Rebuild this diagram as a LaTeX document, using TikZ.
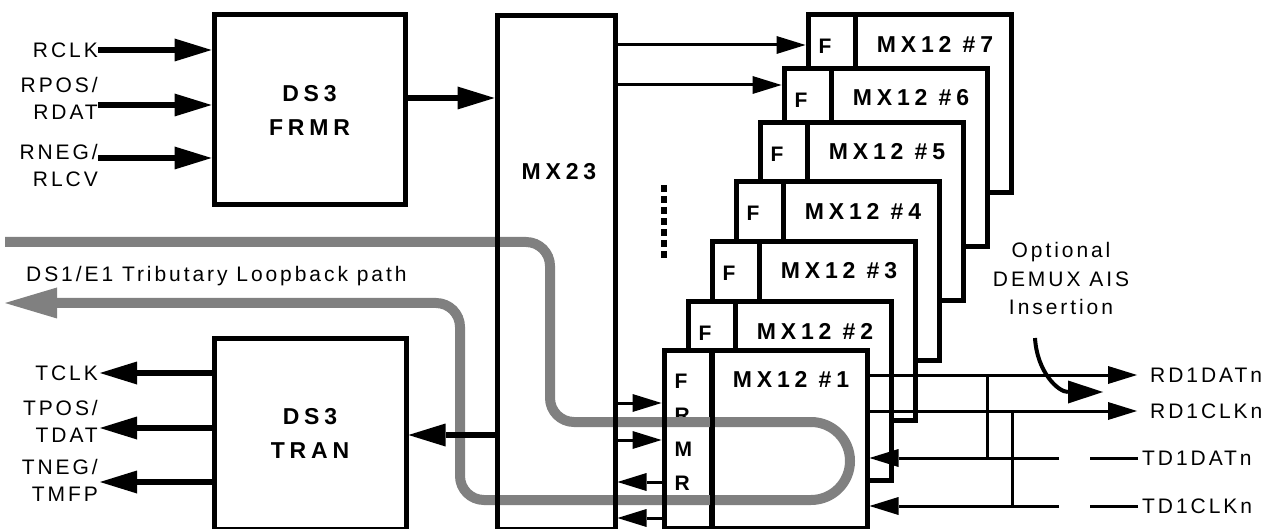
\documentclass[tikz,border=0pt]{standalone}
\usepackage{fontspec}
\setmainfont{Liberation Sans}
\newfontfamily\sigfont[LetterSpace=14]{Liberation Sans}
\newfontfamily\blkfont[LetterSpace=21]{Liberation Sans}
\usetikzlibrary{arrows.meta,positioning}
\definecolor{loopgray}{RGB}{128,128,128}

\tikzset{
  blk/.style={draw, line width=5pt, fill=white, inner sep=0pt, align=center,
    font=\blkfont\bfseries\fontsize{23}{34}\selectfont},
  sig/.style={inner sep=0pt, align=right, font=\sigfont\fontsize{21}{27}\selectfont},
  fat/.style={line width=6pt, -{Triangle[length=37pt,width=23pt,line width=0pt]}},
  thin/.style={line width=3pt, -{Triangle[length=29pt,width=18pt,line width=0pt]}},
  loopback/.style={draw=loopgray, line width=10pt, rounded corners=24pt}
}

\begin{document}
\begin{tikzpicture}[x=1pt,y=-1pt]
\useasboundingbox (0,0) rectangle (1285,529);
% DS3 blocks
\node[blk, minimum width=191pt, minimum height=190pt] (frmr) at (309.5,110) {DS3\\FRMR};
\node[blk, minimum width=192pt, minimum height=190.5pt] (tran) at (310,433.75) {DS3\\TRAN};
% MX12 stack, back to front
\foreach \n/\t in {7/15,6/69,5/123,4/182,3/242,2/302,1/350}{
  \pgfmathsetmacro\l{664+24*(\n-1)}
  \ifnum\n=1 \def\fcol{F\\R\\M\\R}\else\def\fcol{F\\R}\fi
  \node[blk, minimum width=203pt, minimum height=178pt] (mx\n) at (\l+101.5,\t+89) {};
  \draw[line width=5pt] (\l+47.5,\t) -- (\l+47.5,\t+178);
  \node[blk, draw=none, fill=none, anchor=north west, align=left,
    font=\blkfont\bfseries\fontsize{21}{34}\selectfont] at (\l+8,\t+21.5) {\fcol};
  \node[blk, draw=none, fill=none] at (\l+127,\t+29) {MX12 \#\n};
}
\draw[line width=6pt, dash pattern=on 7pt off 4pt] (664,185) -- (664,259);

% loopback path
\draw[loopback] (5,242) -| (550,422) -- (811,422);
\draw[loopback, sharp corners] (811,422) arc[start angle=-90, end angle=90, radius=39];
\draw[loopback, -{Triangle[length=52pt,width=31pt,line width=0pt]}] (811,500) -| (460,303) -- (5,303);
\node[sig, anchor=west] (lbtxt) at (26,276) {DS1/E1 Tributary Loopback path};

% borders over the loopback
\node[blk, fill=none, minimum width=203pt, minimum height=178pt] at (mx1.center) {};
\draw[line width=5pt] (712,350) -- (712,529);
\node[blk, fill=none, minimum width=118pt, minimum height=513pt] (mx23) at (556,272.5) {};
\node[blk, draw=none, fill=none] (mx23lbl) at (559,172) {MX23};

% line side
\node[sig, anchor=east] (rclk) at (98,50) {RCLK};
\node[sig, anchor=east] (rpos) at (98,98.5) {RPOS/\\RDAT};
\node[sig, anchor=east] (rneg) at (98,165) {RNEG/\\RLCV};
\node[sig, anchor=east] (tclk) at (98,373) {TCLK};
\node[sig, anchor=east] (tpos) at (98,421.5) {TPOS/\\TDAT};
\node[sig, anchor=east] (tneg) at (98,480) {TNEG/\\TMFP};
\draw[fat] (rclk.east) -- (frmr.west |- 0,50);
\draw[fat] (rpos.east |- 0,105) -- (frmr.west |- 0,105);
\draw[fat] (rneg.east |- 0,158) -- (frmr.west |- 0,158);
\draw[fat] (tran.west |- 0,373) -- (100,373);
\draw[fat] (tran.west |- 0,428) -- (100,428);
\draw[fat] (tran.west |- 0,482) -- (100,482);
\draw[fat] (frmr.east |- 0,98) -- (mx23.west |- 0,98);
\draw[fat] (mx23.west |- 0,435) -- (tran.east |- 0,435);

% MX23 to MX12
\draw[thin] (mx23.east |- 0,45) -- (mx7.west |- 0,45);
\draw[thin] (mx23.east |- 0,85) -- (mx6.west |- 0,85);
\draw[thin] (mx23.east |- 0,403) -- (mx1.west |- 0,403);
\draw[thin] (mx23.east |- 0,440) -- (mx1.west |- 0,440);
\draw[thin] (mx1.west |- 0,482) -- (mx23.east |- 0,482);
\draw[thin] (mx1.west |- 0,518) -- (mx23.east |- 0,518);

% tributary side
\node[sig, anchor=west] (rdd) at (1150,375) {RD1DATn};
\node[sig, anchor=west] (rdc) at (1150,411) {RD1CLKn};
\node[sig, anchor=west] (tdd) at (1142,458) {TD1DATn};
\node[sig, anchor=west] (tdc) at (1142,506) {TD1CLKn};
\draw[thin] (mx1.east |- 0,375) -- ([xshift=-13pt]rdd.west);
\draw[thin] (mx1.east |- 0,411) -- ([xshift=-13pt]rdc.west);
\draw[line width=3pt] ([xshift=-4pt]tdd.west) -- (1090,458);
\draw[line width=3pt] ([xshift=-4pt]tdc.west) -- (1090,506);
\draw[thin] (1059,458) -- (mx1.east |- 0,458);
\draw[thin] (1059,506) -- (mx1.east |- 0,506);
\draw[line width=3pt] (987,375) -- (987,458);
\draw[line width=3pt] (1012,411) -- (1012,506);
\node[sig, align=center, font=\sigfont\fontsize{21}{28.5}\selectfont] (ais) at (1061,278.5) {Optional\\DEMUX AIS\\Insertion};
\draw[line width=4pt, -{Triangle[length=35pt,width=23pt,line width=0pt]}] (1035,338) .. controls (1037,372) and (1058,392) .. (1103,392);
\end{tikzpicture}
\end{document}
